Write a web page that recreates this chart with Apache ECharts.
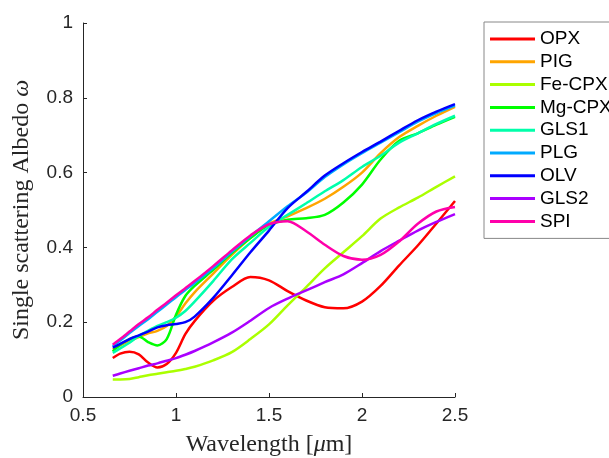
<!DOCTYPE html>
<html>
<head>
<meta charset="utf-8">
<script src="https://cdn.jsdelivr.net/npm/echarts@6/dist/echarts.min.js"></script>
<style>
html, body { margin: 0; padding: 0; background: #fff; }
#albedoChart { width: 609px; height: 458px; }
</style>
</head>
<body>
<div id="albedoChart"></div>
<script>
// 波长 (um)
var wl = [0.66, 0.7, 0.75, 0.8, 0.85, 0.9, 0.95, 1.0, 1.05, 1.1, 1.2, 1.3, 1.4, 1.5, 1.6, 1.7, 1.8, 1.9, 2.0, 2.1, 2.2, 2.3, 2.4, 2.5];
// 各矿物的单次散射反照率
var opx = [0.104, 0.116, 0.121, 0.114, 0.092, 0.079, 0.088, 0.118, 0.168, 0.203, 0.257, 0.294, 0.321, 0.312, 0.283, 0.258, 0.24, 0.237, 0.255, 0.297, 0.352, 0.405, 0.464, 0.524];
var pig = [0.127, 0.138, 0.15, 0.16, 0.17, 0.177, 0.19, 0.215, 0.25, 0.28, 0.33, 0.38, 0.425, 0.463, 0.483, 0.505, 0.53, 0.562, 0.6, 0.652, 0.695, 0.725, 0.752, 0.776];
var feCpx = [0.047, 0.047, 0.048, 0.053, 0.058, 0.062, 0.066, 0.07, 0.075, 0.081, 0.098, 0.12, 0.155, 0.194, 0.245, 0.294, 0.344, 0.387, 0.43, 0.477, 0.507, 0.533, 0.562, 0.59];
var mgCpx = [0.122, 0.14, 0.155, 0.162, 0.147, 0.138, 0.155, 0.22, 0.27, 0.297, 0.34, 0.385, 0.425, 0.46, 0.474, 0.478, 0.487, 0.52, 0.568, 0.635, 0.685, 0.705, 0.728, 0.749];
var gls1 = [0.118, 0.13, 0.145, 0.163, 0.177, 0.19, 0.2, 0.212, 0.23, 0.255, 0.31, 0.368, 0.412, 0.455, 0.487, 0.518, 0.55, 0.58, 0.615, 0.645, 0.68, 0.705, 0.73, 0.752];
var plg = [0.136, 0.151, 0.171, 0.19, 0.208, 0.228, 0.247, 0.267, 0.286, 0.305, 0.345, 0.388, 0.43, 0.47, 0.51, 0.546, 0.588, 0.622, 0.652, 0.68, 0.708, 0.736, 0.759, 0.779];
var olv = [0.132, 0.142, 0.155, 0.165, 0.175, 0.186, 0.192, 0.195, 0.2, 0.215, 0.265, 0.325, 0.387, 0.445, 0.505, 0.548, 0.592, 0.625, 0.655, 0.683, 0.712, 0.74, 0.763, 0.783];
var gls2 = [0.057, 0.063, 0.07, 0.077, 0.084, 0.09, 0.097, 0.104, 0.113, 0.123, 0.146, 0.172, 0.204, 0.238, 0.263, 0.285, 0.307, 0.328, 0.358, 0.39, 0.418, 0.445, 0.468, 0.489];
var spi = [0.14, 0.155, 0.175, 0.195, 0.213, 0.233, 0.252, 0.272, 0.291, 0.31, 0.35, 0.392, 0.432, 0.462, 0.47, 0.443, 0.407, 0.377, 0.367, 0.38, 0.416, 0.463, 0.496, 0.508];

var names = ['OPX', 'PIG', 'Fe-CPX', 'Mg-CPX', 'GLS1', 'PLG', 'OLV', 'GLS2', 'SPI'];
var values = [opx, pig, feCpx, mgCpx, gls1, plg, olv, gls2, spi];
var colors = ['#ff0000', '#ffa500', '#aaff00', '#00ff00', '#00ffaa', '#00aaff', '#0000ff', '#aa00ff', '#ff00aa'];

var axisColor = '#262626';

var series = [];
for (var i = 0; i < names.length; i++) {
	var pts = [];
	for (var j = 0; j < wl.length; j++) {
		pts.push([wl[j], values[i][j]]);
	}
	series.push({
		name: names[i],
		type: 'line',
		symbol: 'none',
		smooth: 0.3,
		lineStyle: {
			color: colors[i],
			width: 2.5
		},
		itemStyle: {
			color: colors[i]
		},
		data: pts
	});
}

var albedoChart = echarts.init(document.getElementById('albedoChart'));
var option = {
	animation: false,
	grid: {
		left: 83,
		right: 154,
		top: 23,
		bottom: 61,
		outerBoundsMode: 'none',
		containLabel: false
	},
	legend: {
		orient: 'vertical',
		left: 484,
		top: 22,
		padding: [7, 6, 7, 6],
		icon: 'rect',
		itemWidth: 45,
		itemHeight: 3,
		itemGap: 2.8,
		itemTextGap: 3,
		borderColor: '#888',
		borderWidth: 1,
		textStyle: {
			fontFamily: 'Liberation Sans',
			fontSize: 19,
			lineHeight: 20,
			color: '#000'
		},
		data: names
	},
	xAxis: {
		type: 'value',
		min: 0.5,
		max: 2.5,
		interval: 0.5,
		name: '{r|Wavelength [}{i|μ}{r|m]}',
		nameLocation: 'middle',
		nameGap: 36,
		nameTextStyle: {
			rich: {
				r: { fontFamily: 'Liberation Serif', fontSize: 24, color: '#262626' },
				i: { fontFamily: 'Liberation Serif', fontStyle: 'italic', fontSize: 24, color: '#262626' }
			}
		},
		axisLine: { lineStyle: { color: axisColor, width: 1 } },
		axisTick: { inside: true, length: 4, lineStyle: { color: axisColor } },
		axisLabel: { margin: 9, fontFamily: 'Liberation Sans', fontSize: 19, color: axisColor },
		splitLine: { show: false }
	},
	yAxis: {
		type: 'value',
		min: 0,
		max: 1,
		interval: 0.2,
		name: '{r|Single scattering Albedo }{i|ω}',
		nameLocation: 'middle',
		nameRotate: 90,
		nameGap: 49,
		nameTextStyle: {
			rich: {
				r: { fontFamily: 'Liberation Serif', fontSize: 24, color: '#262626' },
				i: { fontFamily: 'Liberation Serif', fontStyle: 'italic', fontSize: 24, color: '#262626' }
			}
		},
		axisLine: { show: true, lineStyle: { color: axisColor, width: 1 } },
		axisTick: { show: true, inside: true, length: 4, lineStyle: { color: axisColor } },
		axisLabel: { margin: 10, fontFamily: 'Liberation Sans', fontSize: 19, color: axisColor },
		splitLine: { show: false }
	},
	series: series
};
albedoChart.setOption(option);
</script>
</body>
</html>
